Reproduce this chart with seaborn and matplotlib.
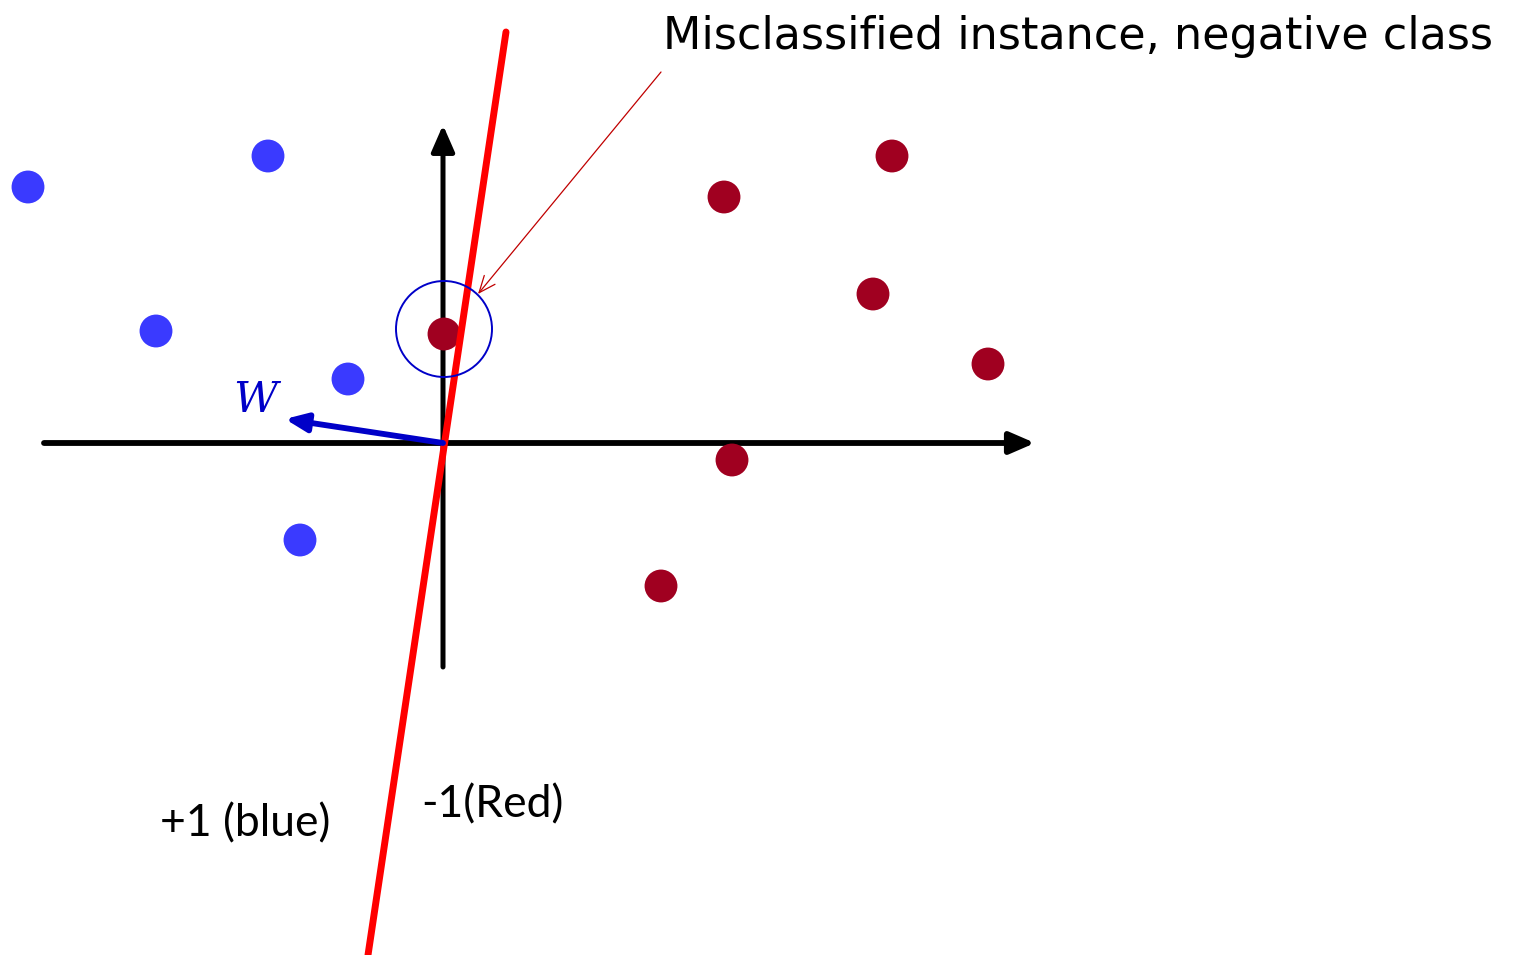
import matplotlib
matplotlib.use("Agg")
import matplotlib.pyplot as plt
import matplotlib.patches as mpatches
import pandas as pd
import seaborn as sns

# --- data (canvas coords, pixels, y grows downward) ---
blue_x = [28, 268, 156, 348, 300]
blue_y = [187, 156, 331, 379, 540]
red_x = [892, 724, 873, 988, 732, 661, 444]
red_y = [156, 197, 294, 364, 460, 586, 334]

boundary_x = [506, 368]
boundary_y = [32, 955]

origin = (443, 443)
w_tip = (285, 419)
x_axis_end = (44, 1035)
y_axis_end = (667, 125)

misclassified = (444, 329)
circle_radius = 48

BLUE = "#3a3aff"
RED = "#a00020"
W_BLUE = "#0000c8"

sns.set_style("white")

fig = plt.figure(figsize=(15.16, 9.55), dpi=100)
ax = fig.add_axes([0, 0, 1, 1])

# coordinate axes with arrow heads
ax.annotate("", xy=(x_axis_end[1], origin[1]), xytext=(x_axis_end[0], origin[1]),
            arrowprops=dict(arrowstyle="-|>,head_length=1.5,head_width=0.65",
                            color="black", lw=4.2, shrinkA=0, shrinkB=0))
ax.annotate("", xy=(origin[0], y_axis_end[1]), xytext=(origin[0], y_axis_end[0]),
            arrowprops=dict(arrowstyle="-|>,head_length=1.6,head_width=0.7",
                            color="black", lw=3.6, shrinkA=0, shrinkB=0))

# points
pts = pd.DataFrame({
    "x": blue_x + red_x,
    "y": blue_y + red_y,
    "cls": ["+1"] * len(blue_x) + ["-1"] * len(red_x),
})
sns.scatterplot(data=pts, x="x", y="y", hue="cls",
                palette={"+1": BLUE, "-1": RED},
                s=560, linewidth=0, legend=False, ax=ax, zorder=3)

# decision boundary
line = pd.DataFrame({"x": boundary_x, "y": boundary_y})
sns.lineplot(data=line, x="x", y="y", color="#ff0000", lw=5,
             sort=False, ax=ax, zorder=4)
ax.set_xlim(0, 1516)
ax.set_ylim(955, 0)
ax.set_aspect("equal")
ax.axis("off")

# weight vector
ax.annotate("", xy=w_tip, xytext=origin,
            arrowprops=dict(arrowstyle="-|>,head_length=1.3,head_width=0.55",
                            color=W_BLUE, lw=4.2, shrinkA=0, shrinkB=0), zorder=5)
ax.text(255, 400, "W", color=W_BLUE, fontsize=31, style="italic",
        family="DejaVu Serif", ha="center", va="center")

# circle round the misclassified point
ax.add_patch(mpatches.Circle(misclassified, circle_radius, fill=False,
                             ec=W_BLUE, lw=1.4, zorder=5))

# annotation
ax.annotate("", xy=(478, 294), xytext=(661, 72),
            arrowprops=dict(arrowstyle="->,head_length=1.2,head_width=0.5",
                            color="#c00000", lw=0.9, shrinkA=0, shrinkB=0))
ax.text(1078, 36, "Misclassified instance, negative class", fontsize=32,
        family="DejaVu Sans", ha="center", va="center", color="black")

ax.text(245, 824, "+1 (blue)", fontsize=32, family="Lato",
        ha="center", va="center", color="black")
ax.text(492, 805, "-1(Red)", fontsize=32, family="Lato",
        ha="center", va="center", color="black")

fig.savefig("out.png", dpi=100, facecolor="white")
